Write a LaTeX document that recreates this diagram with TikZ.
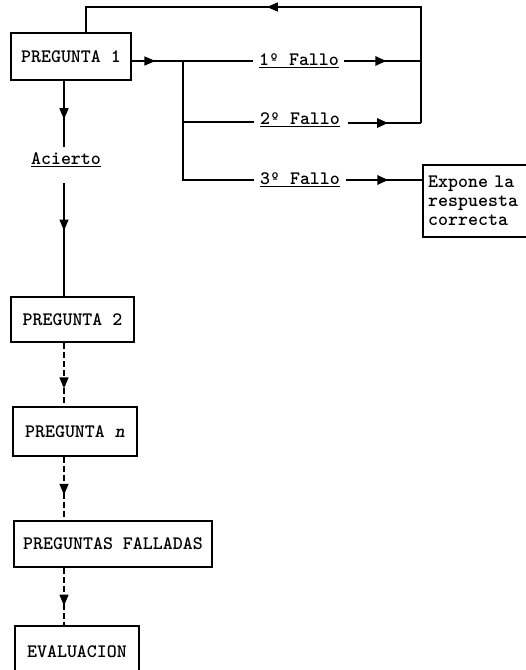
\documentclass[tikz,border=0pt]{standalone}
\usetikzlibrary{arrows.meta,decorations.markings}
\begin{document}
\begin{tikzpicture}[x=1pt,y=-1pt,
  every node/.style={font=\fontsize{19}{19}\selectfont\ttfamily\bfseries},
  box/.style={draw, line width=1.8pt, inner sep=0pt},
  boxline/.style={line width=1.8pt},
  conn/.style={line width=1.4pt},
  heavy/.style={line width=2.6pt},
  dashedconn/.style={line width=1.4pt, dash pattern=on 6pt off 3pt},
  arrowat/.style={postaction={decorate},
    decoration={markings, mark=at position #1 with {\arrow{Triangle[length=11pt,width=9pt]}}}},
  lbl/.style={inner sep=0pt}
]
\useasboundingbox (0,0) rectangle (526,670);
\clip (0,0) rectangle (526,670);
\fill[white] (0,0) rectangle (526,670);

% boxes
\node[box, minimum width=120pt, minimum height=47pt] (p1) at (71,56.5) {PREGUNTA 1};
\node[box, minimum width=123pt, minimum height=45pt] (p2) at (72.5,319.5) {PREGUNTA 2};
\node[box, minimum width=124pt, minimum height=49pt] (pn) at (75,431.5) {PREGUNTA \textit{n}};
\node[box, minimum width=198pt, minimum height=46pt] (pf) at (113,544) {PREGUNTAS FALLADAS};
\node[box, minimum width=124pt, minimum height=52pt] (ev) at (77,652) {EVALUACION};
\node[anchor=west, text width=100pt, align=left, inner xsep=5pt, inner ysep=0pt, minimum height=72pt] (ex) at (423,201)
  {Expone la\\respuesta\\correcta};
\draw[boxline] ([xshift=40pt]ex.north east) -- (ex.north west) -- (ex.south west) -- ([xshift=40pt]ex.south east);

% Acierto
\node[lbl] (ac) at (66,160) {\underline{Acierto}};
\coordinate (acT) at (64,147);
\coordinate (acB) at (64,183);
\draw[conn, arrowat=0.58] (p1.south -| acT) -- (acT);
\draw[conn, arrowat=0.42] (acB) -- (p2.north -| acB);

% dashed chain
\draw[dashedconn, arrowat=0.72] (p2.south -| acB) -- (pn.north -| acB);
\draw[dashedconn, arrowat=0.6] (pn.south -| acB) -- (pf.north -| acB);
\draw[dashedconn, arrowat=0.66] (pf.south -| acB) -- (ev.north -| acB);

% fallo branches
\coordinate (j0) at (183,61);
\coordinate (j1) at (183,122);
\coordinate (j2) at (183,180);
\coordinate (r1) at (421,61);
\coordinate (r2) at (421,123);
\coordinate (rt) at (421,7);
\coordinate (lt) at (86,7);

\node[lbl] (f1) at (299,61) {\underline{1º Fallo}};
\node[lbl] (f2) at (300,120) {\underline{2º Fallo}};
\node[lbl] (f3) at (300,180) {\underline{3º Fallo}};

\draw[conn, arrowat=0.46] (p1.east |- j0) -- (j0);
\draw[conn] (j0) -- (j2) -- ([xshift=-6pt]f3.west |- j2);
\draw[conn] (j0) -- ([xshift=-6pt]f1.west |- j0);
\draw[conn] (j1) -- ([xshift=-6pt]f2.west |- j1);

\draw[heavy, arrowat=0.55] ([xshift=5pt]f1.east |- r1) -- (r1);
\draw[heavy, arrowat=0.55] ([xshift=8pt]f2.east |- r2) -- (r2);
\draw[heavy, arrowat=0.55] ([xshift=6pt]f3.east |- j2) -- (ex.west |- j2);

% loop back
\draw[conn] (r2) -- (rt) -- (lt) -- (p1.north -| lt);
\draw[conn, arrowat=0.46] (rt) -- (lt);
\end{tikzpicture}
\end{document}
